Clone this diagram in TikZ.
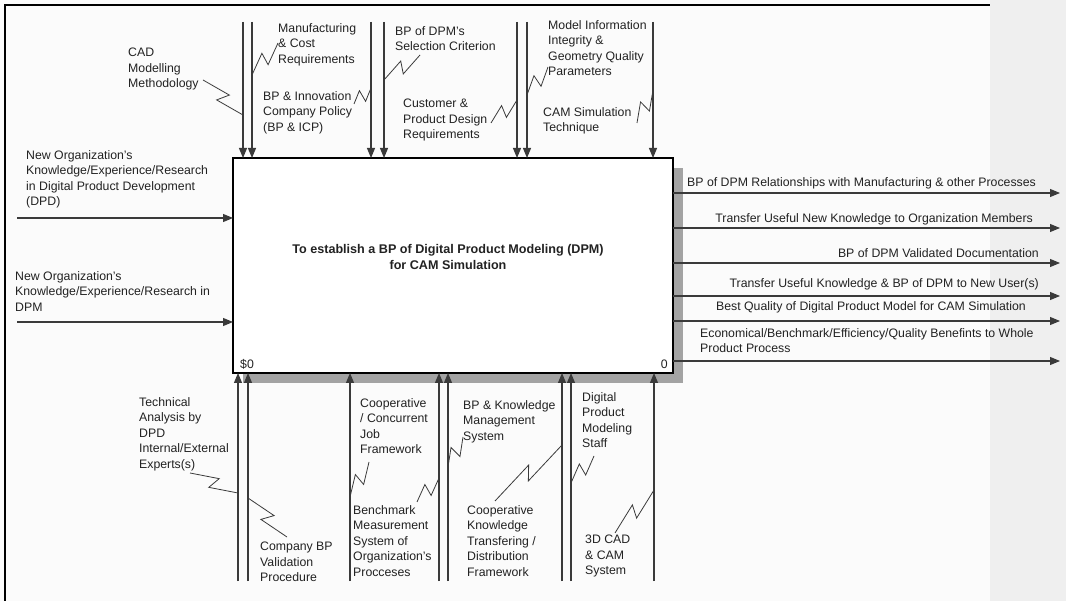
\documentclass[tikz,border=0pt]{standalone}
\usepackage{fontspec}
\setmainfont{Liberation Sans}
\usetikzlibrary{arrows.meta,calc}
\definecolor{ink}{HTML}{222222}
\definecolor{ln}{HTML}{3A3A3A}
\definecolor{side}{HTML}{EFEFEF}
\definecolor{paper}{HTML}{FBFBFB}
\newcommand\lbfont{\fontsize{12.3}{15.5}\selectfont}
\newcommand\ttlfont{\fontsize{12.6}{15.5}\selectfont}
\begin{document}
\begin{tikzpicture}[x=1pt,y=-1pt,
  lbl/.style={font=\lbfont, align=left, anchor=north west, inner sep=0pt, text=ink},
  lblr/.style={lbl, align=right, anchor=north east},
  arr/.style={line width=1.1pt, draw=ln, -{Triangle[length=10pt,width=8pt]}},
  sq/.style={line width=0.8pt, draw=ln},
  bolt/.style={to path={-- ($(\tikztostart)!0.56!(\tikztotarget)!#1!90:(\tikztotarget)$)
      -- ($(\tikztostart)!0.44!(\tikztotarget)!#1!-90:(\tikztotarget)$) -- (\tikztotarget)}},
  bolt/.default=6pt]
\useasboundingbox (0,0) rectangle (1066,601);
% sheet, side strip and frame
\fill[paper] (0,0) rectangle (990,601);
\fill[side] (990,0) rectangle (1066,601);
\draw[line width=2.5pt] (5,601) -- (5,5) -- (990,5);

% activity box with its offset shadow
\fill[black!36] (243,168) rectangle (683,383);
\node[draw, line width=2.5pt, fill=white, minimum width=440pt, minimum height=215pt,
      inner sep=0pt, outer sep=0pt] (box) at (453,265.5) {};
\node[font=\ttlfont\bfseries, align=center, text=ink] (title) at (448,257)
  {To establish a BP of Digital Product Modeling (DPM)\\for CAM Simulation};
\node[font=\lbfont, text=ink, anchor=west, inner sep=0pt] (id0) at (240,364) {\$0};
\node[font=\lbfont, text=ink, anchor=east, inner sep=0pt] (id1) at (668,364) {0};

% controls
\foreach \n/\x in {t1/243,t2/252,t3/371,t4/384,t5/517,t6/527,t7/653}{
  \coordinate (\n) at (\x,22);
  \draw[arr] (\n) -- (\n |- box.north);
}
% mechanisms
\foreach \n/\x in {b1/238,b2/248,b3/350,b4/439,b5/448,b6/562,b7/571,b8/654}{
  \coordinate (\n) at (\x,581);
  \draw[arr] (\n) -- (\n |- box.south);
}
% inputs
\foreach \n/\y in {i1/218,i2/322}{
  \coordinate (\n) at (17,\y);
  \draw[arr] (\n) -- (\n -| box.west);
}
% outputs
\foreach \n/\y in {o1/193,o2/228,o3/263,o4/296,o5/321,o6/361}{
  \coordinate (\n) at (1060,\y);
  \draw[arr] (\n -| box.east) -- (\n);
}

% control labels
\node[lbl] (lcad) at (128,48) {CAD\\Modelling\\Methodology};
\node[lbl] (lmfg) at (278,23) {Manufacturing\\\& Cost\\Requirements};
\node[lbl] (linn) at (263,91) {BP \& Innovation\\Company Policy\\(BP \& ICP)};
\node[lbl] (lsel) at (395,26) {BP of DPM's\\Selection Criterion};
\node[lbl] (lcus) at (403,99) {Customer \&\\Product Design\\Requirements};
\node[lbl] (lmod) at (548,20) {Model Information\\Integrity \&\\Geometry Quality\\Parameters};
\node[lbl] (lcam) at (543,107) {CAM Simulation\\Technique};

% input labels
\node[lbl] (lin1) at (26,150) {New Organization's\\Knowledge/Experience/Research\\in Digital Product Development\\(DPD)};
\node[lbl] (lin2) at (15,271) {New Organization's\\Knowledge/Experience/Research in\\DPM};

% output labels
\node[lbl]  (lo1) at (687,177) {BP of DPM Relationships with Manufacturing \& other Processes};
\node[lblr] (lo2) at (1033,213) {Transfer Useful New Knowledge to Organization Members};
\node[lblr] (lo3) at (1039,248) {BP of DPM Validated Documentation};
\node[lblr] (lo4) at (1039,278) {Transfer Useful Knowledge \& BP of DPM to New User(s)};
\node[lblr] (lo5) at (1026,301) {Best Quality of Digital Product Model for CAM Simulation};
\node[lbl]  (lo6) at (700,328) {Economical/Benchmark/Efficiency/Quality Benefints to Whole\\Product Process};

% mechanism labels
\node[lbl] (ltec) at (139,397) {Technical\\Analysis by\\DPD\\Internal/External\\Experts(s)};
\node[lbl] (lcom) at (260,542) {Company BP\\Validation\\Procedure};
\node[lbl] (lcoo) at (360,398) {Cooperative\\/ Concurrent\\Job\\Framework};
\node[lbl] (lben) at (353,505) {Benchmark\\Measurement\\System of\\Organization's\\Procceses};
\node[lbl] (lbpk) at (463,400) {BP \& Knowledge\\Management\\System};
\node[lbl] (ldig) at (582,392) {Digital\\Product\\Modeling\\Staff};
\node[lbl] (lckt) at (467,505) {Cooperative\\Knowledge\\Transfering /\\Distribution\\Framework};
\node[lbl] (l3d)  at (585,535) {3D CAD\\\& CAM\\System};

% squiggles tying labels to their arrows
\foreach \a/\b/\ax/\ay/\bx/\by in {
  cad/t1/203/80/243/115, mfg/t2/278/43/252/75, inn/t3/354/104/371/88,
  sel/t4/420/55/384/80, cus/t5/491/123/517/100, mod/t6/548/67/527/95,
  cam/t7/637/123/653/90,
  tec/b1/190/473/238/493, com/b2/287/537/248/498, coo/b3/369/462/350/497,
  ben/b4/417/502/439/478, bpk/b5/463/437/448/467, ckt/b6/495/501/562/445,
  dig/b7/594/456/571/483, cd3/b8/615/533/654/490}{
  \coordinate (s\a) at (\ax,\ay);
  \coordinate (e\a) at (\bx,\by);
  \draw[sq] (s\a) to[bolt] (e\a);
}
\end{tikzpicture}
\end{document}
